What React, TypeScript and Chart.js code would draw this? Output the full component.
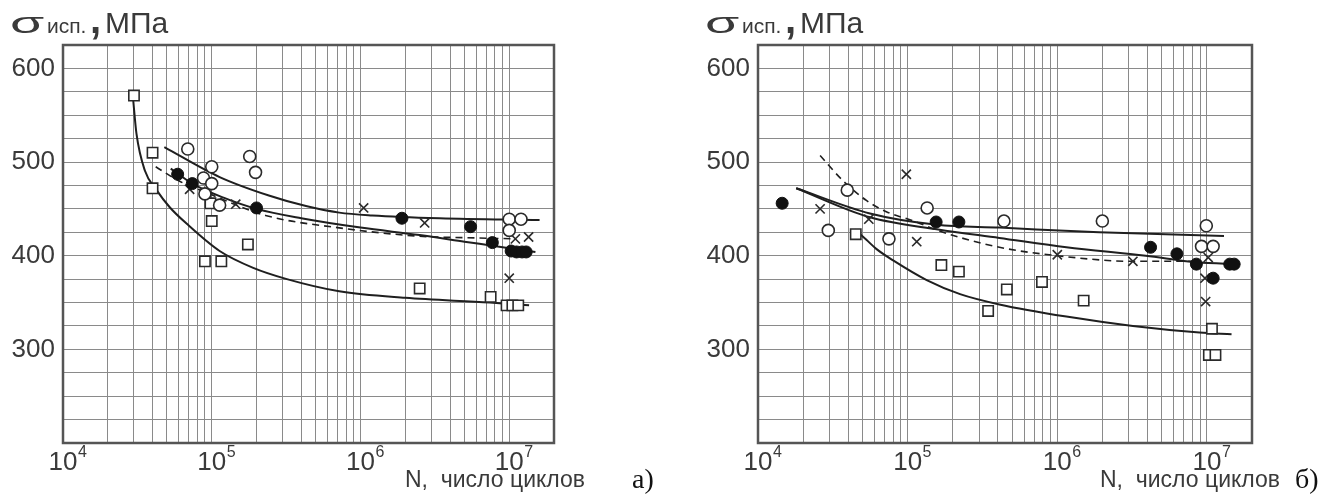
import React, { useEffect, useRef } from 'react';
import { Chart, registerables } from 'chart.js';

Chart.register(...registerables);

// ---------- axis values ----------
const X_MIN = 1e4;
const X_MAX = 2e7;
const Y_MIN = 200;
const Y_MAX = 625;
const Y_STEP = 25;
const Y_LABELS = [300, 400, 500, 600];
const X_LABEL_EXPONENTS = [4, 5, 6, 7];
const X_GRID_MULTIPLIERS = [1, 2, 3, 4, 5, 6, 7, 8, 9];
const X_GRID_DECADES = [4, 5, 6];

const Y_TITLE_SIGMA = 'σ';
const Y_TITLE_SUB = 'исп.';
const Y_TITLE_COMMA = ',';
const Y_TITLE_UNIT = 'МПа';
const X_TITLE = 'N,  число циклов';

// ---------- panel а) ----------
const aOpenCircles: [number, number][] = [
  [6.9e4, 514], [1e5, 495], [8.8e4, 483], [1e5, 477], [9e4, 466], [1.13e5, 454],
  [1.8e5, 506], [1.97e5, 489], [1e7, 439], [1.2e7, 439], [1e7, 427],
];
const aFilledCircles: [number, number][] = [
  [5.9e4, 487], [7.4e4, 477], [2e5, 451], [1.9e6, 440], [5.5e6, 431], [7.7e6, 414],
  [1.03e7, 405], [1.12e7, 404], [1.22e7, 404], [1.3e7, 404],
];
const aCrosses: [number, number][] = [
  [7.1e4, 471], [1.45e5, 455], [1.05e6, 451], [2.7e6, 435], [1e7, 376], [1.1e7, 418], [1.35e7, 420],
];
const aSquares: [number, number][] = [
  [3e4, 571], [4e4, 510], [4e4, 472], [9.8e4, 456], [1e5, 437], [9e4, 394], [1.16e5, 394],
  [1.75e5, 412], [2.5e6, 365], [7.5e6, 356], [9.6e6, 347], [1.05e7, 347], [1.15e7, 347],
];
const aCurveUpper: [number, number][] = [
  [4.8e4, 516], [1.13e5, 484], [2.45e5, 464], [4.3e5, 453], [7.2e5, 446], [1.2e6, 443], [3.4e6, 440], [1.6e7, 438],
];
const aCurveMiddle: [number, number][] = [
  [5.3e4, 493], [7.4e4, 477], [1.2e5, 462], [2e5, 450], [4e5, 440], [1e6, 430], [2.5e6, 422], [5e6, 415], [1e7, 408], [1.5e7, 404],
];
const aCurveDashed: [number, number][] = [
  [4.2e4, 495], [6e4, 480], [1e5, 465], [2.3e5, 443], [7e5, 430], [2.4e6, 421], [6e6, 419], [1.1e7, 418],
];
const aCurveLower: [number, number][] = [
  [2.95e4, 570], [3.12e4, 530], [3.55e4, 491], [4.26e4, 470], [5.2e4, 452], [6.8e4, 434], [1.13e5, 405],
  [1.9e5, 387], [3.2e5, 375], [7.2e5, 362], [2e6, 355], [7.4e6, 350], [1.36e7, 347],
];

// ---------- panel б) ----------
const bOpenCircles: [number, number][] = [
  [3.95e4, 470], [2.95e4, 427], [7.5e4, 418], [1.35e5, 451], [4.4e5, 437], [2e6, 437],
  [9.9e6, 432], [9.2e6, 410], [1.1e7, 410],
];
const bFilledCircles: [number, number][] = [
  [1.45e4, 456], [1.55e5, 436], [2.2e5, 436], [4.2e6, 409], [6.3e6, 402], [8.5e6, 391],
  [1.1e7, 376], [1.42e7, 391], [1.52e7, 391],
];
const bCrosses: [number, number][] = [
  [9.8e4, 487], [2.6e4, 450], [5.5e4, 439], [1.15e5, 415], [1e6, 401], [3.2e6, 394],
  [1.02e7, 398], [9.7e6, 376], [9.8e6, 351],
];
const bSquares: [number, number][] = [
  [4.5e4, 423], [1.68e5, 390], [2.2e5, 383], [3.45e5, 341], [4.6e5, 364], [7.9e5, 372],
  [1.5e6, 352], [1.08e7, 322], [1.03e7, 294], [1.14e7, 294],
];
const bCurveDashed: [number, number][] = [
  [2.6e4, 507], [3.7e4, 480], [5.3e4, 459], [7.2e4, 447], [1.1e5, 437], [1.65e5, 426],
  [4.1e5, 409], [1e6, 400], [3.2e6, 394], [8.5e6, 394],
];
const bCurveUpper: [number, number][] = [
  [1.8e4, 472], [5.6e4, 445], [1.56e5, 433], [4.1e5, 430], [1.9e6, 425], [1.3e7, 421],
];
const bCurveMiddle: [number, number][] = [
  [1.8e4, 472], [5.6e4, 441], [1.6e5, 428], [4.1e5, 419], [1.15e6, 409], [3.9e6, 400], [8.5e6, 393], [1.65e7, 391],
];
const bCurveLower: [number, number][] = [
  [4.45e4, 428], [5.3e4, 417], [6.2e4, 407], [8e4, 395], [1.34e5, 374], [2.24e5, 359], [4.1e5, 348],
  [1.15e6, 335], [3.2e6, 325], [8.9e6, 318], [1.46e7, 316],
];

// ---------- styling ----------
const FONT = '"Liberation Sans", Arial, sans-serif';
const SERIF = '"Liberation Serif", "Times New Roman", serif';
const TEXT_COLOR = '#3a3a3a';
const GRID_COLOR = '#8a8a8a';
const FRAME_COLOR = '#555555';
const LINE_COLOR = '#1f1f1f';
const MARK_COLOR = '#2a2a2a';

type Pair = [number, number];
const pts = (arr: Pair[]) => arr.map(([x, y]) => ({ x, y }));

interface PanelData {
  open: Pair[];
  filled: Pair[];
  crosses: Pair[];
  squares: Pair[];
  solid: Pair[][];
  dashed: Pair[][];
}

interface Geom {
  canvasLeft: number;
  canvasWidth: number;
  areaLeft: number;
  areaRight: number;
  titleX: number;
  xTitleX: number;
  letterX: number;
  letter: string;
}

const H = 497;
const AREA_TOP = 45;
const AREA_BOTTOM = 443;

function buildDatasets(d: PanelData) {
  const ds: any[] = [];
  const markerBase = { showLine: false, borderColor: MARK_COLOR, borderWidth: 1.6, order: 0 };
  ds.push({ ...markerBase, data: pts(d.open), pointStyle: 'circle', pointRadius: 6, pointBackgroundColor: '#ffffff', pointBorderColor: MARK_COLOR, pointBorderWidth: 1.6 });
  ds.push({ ...markerBase, data: pts(d.filled), pointStyle: 'circle', pointRadius: 6, pointBackgroundColor: '#111111', pointBorderColor: '#111111', pointBorderWidth: 1 });
  ds.push({ ...markerBase, data: pts(d.crosses), pointStyle: 'crossRot', pointRadius: 6.5, pointBorderColor: MARK_COLOR, pointBorderWidth: 1.6 });
  ds.push({ ...markerBase, data: pts(d.squares), pointStyle: 'rect', pointRadius: 7.3, pointBackgroundColor: '#ffffff', pointBorderColor: MARK_COLOR, pointBorderWidth: 1.6 });
  d.solid.forEach((c) =>
    ds.push({ data: pts(c), showLine: true, pointRadius: 0, borderColor: LINE_COLOR, borderWidth: 2, cubicInterpolationMode: 'monotone', order: 5 })
  );
  d.dashed.forEach((c) =>
    ds.push({ data: pts(c), showLine: true, pointRadius: 0, borderColor: LINE_COLOR, borderWidth: 1.6, borderDash: [7, 5], cubicInterpolationMode: 'monotone', order: 5 })
  );
  return ds;
}

function makeDecor(g: Geom) {
  return {
    id: 'decor',
    beforeDatasetsDraw(chart: any) {
      const { ctx, chartArea } = chart;
      ctx.save();
      ctx.strokeStyle = FRAME_COLOR;
      ctx.lineWidth = 2.5;
      ctx.strokeRect(chartArea.left, chartArea.top, chartArea.right - chartArea.left, chartArea.bottom - chartArea.top);
      ctx.restore();
    },
    afterDraw(chart: any) {
      const { ctx } = chart;
      const xs = chart.scales.x;
      ctx.save();
      ctx.fillStyle = TEXT_COLOR;
      ctx.textBaseline = 'alphabetic';
      ctx.textAlign = 'left';
      // x tick labels 10^n
      X_LABEL_EXPONENTS.forEach((e) => {
        const px = xs.getPixelForValue(Math.pow(10, e));
        ctx.font = `26px ${FONT}`;
        const w = ctx.measureText('10').width;
        ctx.fillText('10', px - w / 2, 470);
        ctx.font = `16px ${FONT}`;
        ctx.fillText(String(e), px + w / 2 + 0.5, 457);
      });
      // x axis title
      ctx.font = `23px ${FONT}`;
      ctx.fillText(X_TITLE, g.xTitleX, 487);
      // panel letter
      ctx.fillStyle = '#111111';
      ctx.font = `28px ${SERIF}`;
      ctx.fillText(g.letter, g.letterX, 488);
      // y title
      ctx.fillStyle = TEXT_COLOR;
      const x0 = g.titleX;
      ctx.save();
      ctx.translate(x0, 33);
      ctx.scale(1.85, 1);
      ctx.font = `30px ${FONT}`;
      ctx.fillText(Y_TITLE_SIGMA, 0, 0);
      ctx.restore();
      ctx.font = `21px ${FONT}`;
      ctx.fillText(Y_TITLE_SUB, x0 + 37, 33);
      ctx.font = `bold 40px ${FONT}`;
      ctx.fillText(Y_TITLE_COMMA, x0 + 80, 33);
      ctx.font = `30px ${FONT}`;
      ctx.fillText(Y_TITLE_UNIT, x0 + 95, 33);
      ctx.restore();
    },
  };
}

function Panel({ g, d }: { g: Geom; d: PanelData }) {
  const ref = useRef<HTMLCanvasElement | null>(null);
  useEffect(() => {
    if (!ref.current) return;
    const xGrid: number[] = [];
    X_GRID_DECADES.forEach((e) => X_GRID_MULTIPLIERS.forEach((m) => xGrid.push(m * Math.pow(10, e))));
    xGrid.push(1e7, X_MAX);
    const chart = new Chart(ref.current, {
      type: 'scatter',
      data: { datasets: buildDatasets(d) },
      options: {
        responsive: false,
        animation: false,
        devicePixelRatio: 1,
        events: [],
        layout: { padding: { left: 0, top: AREA_TOP, right: g.canvasWidth - g.areaRight, bottom: 0 } },
        plugins: { legend: { display: false }, tooltip: { enabled: false }, title: { display: false } },
        scales: {
          x: {
            type: 'logarithmic',
            min: X_MIN,
            max: X_MAX,
            afterBuildTicks: (s: any) => {
              s.ticks = xGrid.map((v) => ({ value: v }));
            },
            afterFit: (s: any) => {
              s.height = H - AREA_BOTTOM;
            },
            ticks: { display: false, autoSkip: false },
            grid: { color: GRID_COLOR, lineWidth: 1, drawTicks: false },
            border: { display: false },
          },
          y: {
            type: 'linear',
            min: Y_MIN,
            max: Y_MAX,
            afterFit: (s: any) => {
              s.width = g.areaLeft;
            },
            ticks: {
              stepSize: Y_STEP,
              autoSkip: false,
              padding: 8,
              color: TEXT_COLOR,
              font: { family: FONT, size: 26 },
              callback: (v: any) => (Y_LABELS.includes(Number(v)) ? String(v) : ''),
            },
            grid: { color: GRID_COLOR, lineWidth: 1, drawTicks: false },
            border: { display: false },
          },
        },
      },
      plugins: [makeDecor(g)],
    } as any);
    return () => chart.destroy();
  }, []);
  return (
    <canvas
      ref={ref}
      width={g.canvasWidth}
      height={H}
      style={{ position: 'absolute', left: g.canvasLeft, top: 0, width: g.canvasWidth, height: H, display: 'block' }}
    />
  );
}

const geomA: Geom = {
  canvasLeft: 0, canvasWidth: 660, areaLeft: 63, areaRight: 554,
  titleX: 10, xTitleX: 405, letterX: 632, letter: 'а)',
};
const geomB: Geom = {
  canvasLeft: 660, canvasWidth: 679, areaLeft: 98, areaRight: 592,
  titleX: 45, xTitleX: 440, letterX: 635, letter: 'б)',
};

const dataA: PanelData = {
  open: aOpenCircles, filled: aFilledCircles, crosses: aCrosses, squares: aSquares,
  solid: [aCurveUpper, aCurveMiddle, aCurveLower], dashed: [aCurveDashed],
};
const dataB: PanelData = {
  open: bOpenCircles, filled: bFilledCircles, crosses: bCrosses, squares: bSquares,
  solid: [bCurveUpper, bCurveMiddle, bCurveLower], dashed: [bCurveDashed],
};

export default function App() {
  return (
    <div style={{ position: 'absolute', left: 0, top: 0, width: 1339, height: H, background: '#ffffff' }}>
      <Panel g={geomA} d={dataA} />
      <Panel g={geomB} d={dataB} />
    </div>
  );
}
